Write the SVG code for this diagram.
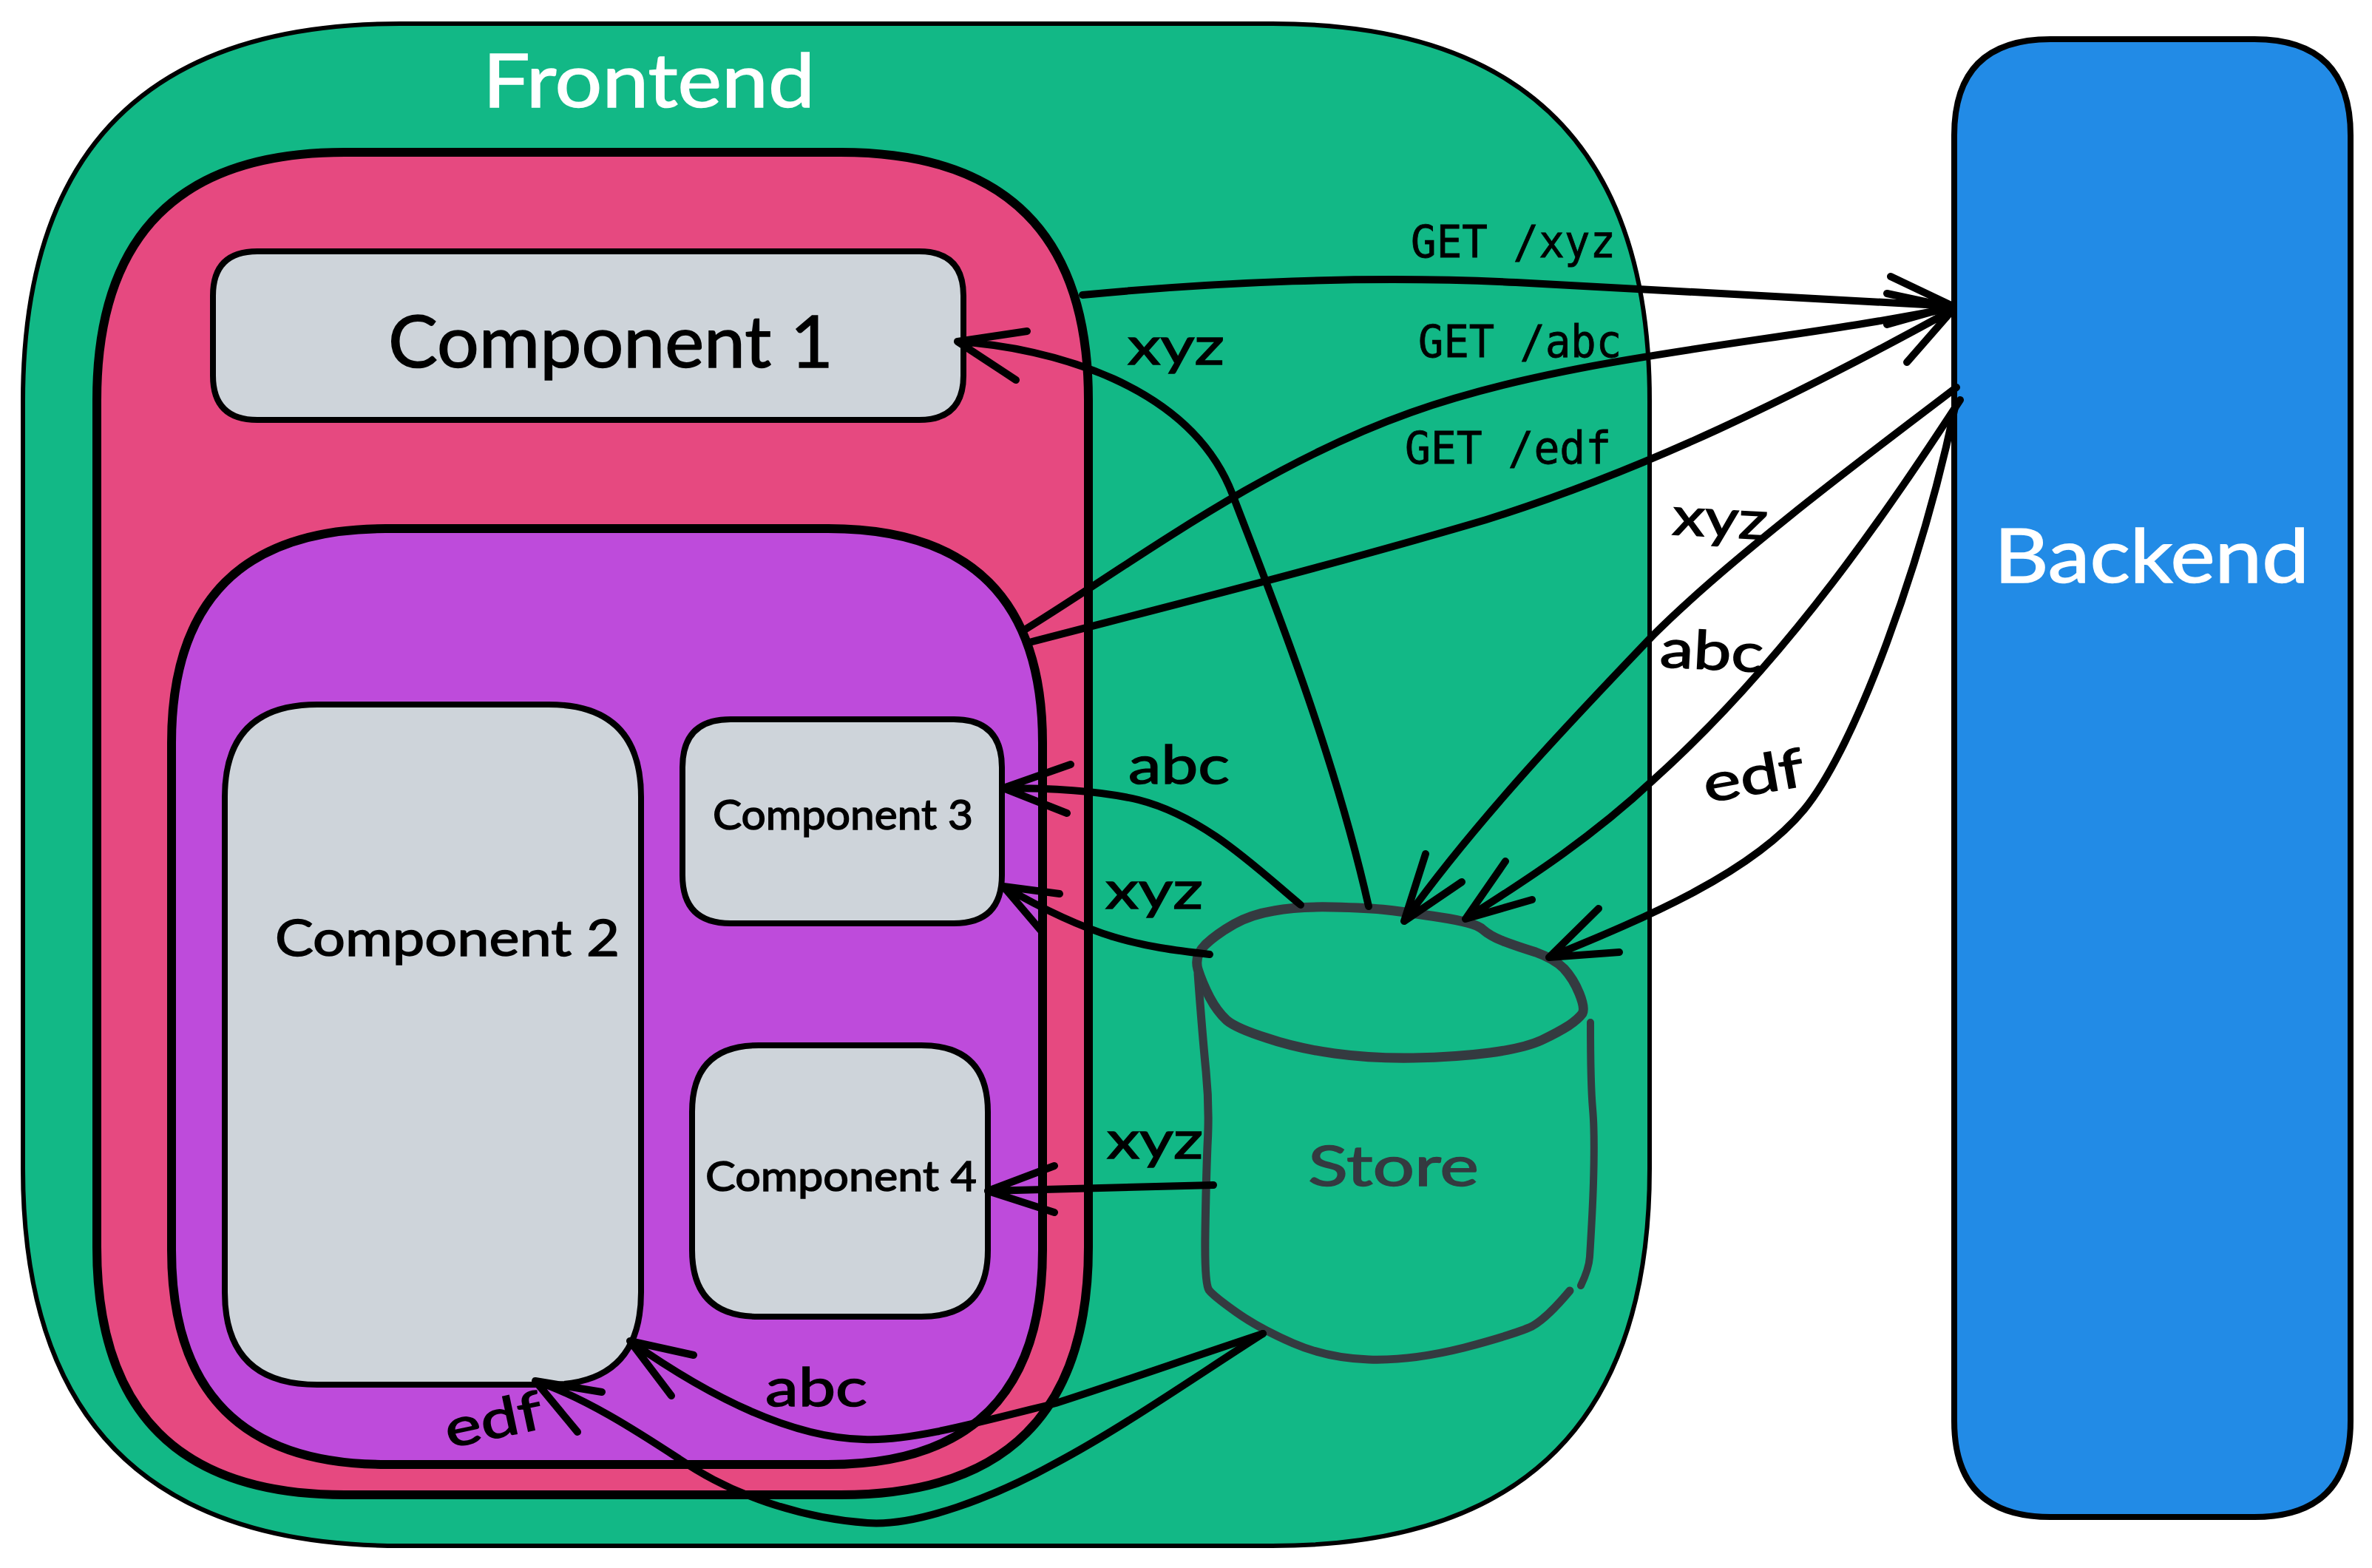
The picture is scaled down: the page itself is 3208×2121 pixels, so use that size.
<svg xmlns="http://www.w3.org/2000/svg" width="3208" height="2121" viewBox="0 0 3208 2121">
<style>
.box{stroke:#000;stroke-linejoin:round}
.t{font-family:"Lato","Liberation Sans",sans-serif;fill:#000;stroke:#000;stroke-width:1.5}
.w{fill:#fff;stroke:#fff}
.s{fill:#343a40;stroke:#343a40}
.m{font-family:"DejaVu Sans Mono","Liberation Mono",monospace;font-size:60px;fill:#000;stroke:#000;stroke-width:.8}
.c{fill:none;stroke:#000;stroke-width:10;stroke-linecap:round;stroke-linejoin:round}
.st{fill:none;stroke:#343a40;stroke-linecap:round;stroke-linejoin:round}
</style>
<rect width="3208" height="2121" fill="#fff"/>
<g id="frontend">
<path class="box" fill="#12b886" stroke-width="6" d="M541 32H1721Q2231 32 2231 542V1581Q2231 2091 1721 2091H541Q31 2091 31 1581V542Q31 32 541 32Z"/>
<text class="t w" x="653" y="145" font-size="100" textLength="449" lengthAdjust="spacingAndGlyphs">Frontend</text>
</g>
<g id="pink-container">
<path class="box" fill="#e64980" stroke-width="12" d="M466 206H1137Q1472 206 1472 541V1687Q1472 2022 1137 2022H466Q131 2022 131 1687V541Q131 206 466 206Z"/>
</g>
<g id="component-1">
<path class="box" fill="#ced4da" stroke-width="8" d="M348 340H1243Q1303 340 1303 400V508Q1303 568 1243 568H348Q288 568 288 508V400Q288 340 348 340Z"/>
<text class="t" x="525" y="497" font-size="96" textLength="602" lengthAdjust="spacingAndGlyphs">Component 1</text>
</g>
<g id="purple-container">
<path class="box" fill="#be4bdb" stroke-width="12" d="M522 715H1120Q1410 715 1410 1005V1691Q1410 1981 1120 1981H522Q232 1981 232 1691V1005Q232 715 522 715Z"/>
</g>
<g id="component-2">
<path class="box" fill="#ced4da" stroke-width="8" d="M429 953H742Q867 953 867 1078V1748Q867 1873 742 1873H429Q304 1873 304 1748V1078Q304 953 429 953Z"/>
<text class="t" x="372" y="1293" font-size="68" textLength="466" lengthAdjust="spacingAndGlyphs">Component 2</text>
</g>
<g id="component-3">
<path class="box" fill="#ced4da" stroke-width="8" d="M988 973H1290Q1355 973 1355 1038V1184Q1355 1249 1290 1249H988Q923 1249 923 1184V1038Q923 973 988 973Z"/>
<text class="t" x="964" y="1122" font-size="56" textLength="352" lengthAdjust="spacingAndGlyphs">Component 3</text>
</g>
<g id="component-4">
<path class="box" fill="#ced4da" stroke-width="8" d="M1026 1414H1246Q1336 1414 1336 1504V1691Q1336 1781 1246 1781H1026Q936 1781 936 1691V1504Q936 1414 1026 1414Z"/>
<text class="t" x="954" y="1611" font-size="56" textLength="367" lengthAdjust="spacingAndGlyphs">Component 4</text>
</g>
<g id="backend">
<path class="box" fill="#228be6" stroke-width="8" d="M2773 53H3049Q3179 53 3179 183V1922Q3179 2052 3049 2052H2773Q2643 2052 2643 1922V183Q2643 53 2773 53Z"/>
<text class="t w" x="2697" y="788" font-size="100" textLength="426" lengthAdjust="spacingAndGlyphs">Backend</text>
</g>
<g id="store">
<path class="st" stroke-width="13" d="M1630 1278Q1646 1263 1669 1250Q1692 1237 1723 1232Q1754 1226 1802 1227Q1851 1228 1877 1231Q1903 1234 1949 1241Q1995 1248 2005 1257Q2015 1266 2033 1273Q2051 1280 2077 1288Q2102 1297 2115 1310Q2128 1324 2136 1344Q2144 1364 2140 1371Q2135 1378 2122 1387Q2108 1396 2085 1407Q2061 1418 2015 1424Q1969 1430 1912 1431Q1856 1432 1805 1425Q1754 1418 1713 1404Q1672 1391 1659 1380Q1646 1368 1636 1349Q1626 1330 1620 1311Q1615 1293 1630 1278Z"/>
<path class="st" stroke-width="11" d="M1620 1317Q1626 1398 1631 1449Q1636 1499 1633 1550Q1631 1601 1630 1668Q1629 1736 1635 1745Q1641 1753 1672 1775Q1703 1797 1749 1817Q1795 1837 1851 1839Q1908 1841 1980 1823Q2051 1804 2072 1794Q2092 1783 2123 1746"/>
<path class="st" stroke-width="10" d="M2151 1383Q2151 1466 2154 1500Q2157 1533 2155 1600Q2154 1635 2150 1700Q2149 1716 2138 1739"/>
<text class="t s" x="1769" y="1604" font-size="76" textLength="231" lengthAdjust="spacingAndGlyphs">Store</text>
</g>
<g id="connectors">
<path class="c" d="M1464 399C1640 382 1850 372 2050 382L2641 414M2557 374L2641 414L2552 439"/>
<path class="c" d="M1384 853C1520 770 1700 632 1908 558C2130 479 2400 465 2641 416M2552 397L2641 416"/>
<path class="c" d="M1392 869C1600 815 1800 765 2010 703C2226 635 2420 540 2641 419L2579 490"/>
<path class="c" d="M2646 524C2560 590 2350 745 2236 859C2130 970 2000 1105 1899 1246L1928 1155M1899 1246L1977 1193"/>
<path class="c" d="M2651 541C2560 680 2420 890 2236 1055C2140 1145 2040 1205 1982 1243L2036 1165M1982 1243L2072 1217"/>
<path class="c" d="M2644 551C2600 760 2510 1010 2440 1095C2370 1180 2230 1240 2095 1295L2162 1229M2095 1295L2190 1288"/>
<path class="c" d="M1851 1226C1800 1000 1705 770 1667 669C1610 520 1420 470 1295 462L1389 448M1295 462L1374 514"/>
<path class="c" d="M1759 1224C1700 1175 1630 1105 1540 1082C1490 1070 1420 1066 1357 1066L1448 1034M1357 1066L1443 1100"/>
<path class="c" d="M1636 1291C1540 1280 1480 1270 1357 1199L1433 1209M1357 1199L1408 1259"/>
<path class="c" d="M1641 1603L1336 1611L1426 1577M1336 1611L1426 1640"/>
<path class="c" d="M1708 1804C1600 1840 1500 1875 1428 1898C1320 1925 1230 1950 1168 1947C1070 1945 960 1890 852 1814L938 1833M852 1814L908 1888"/>
<path class="c" d="M1708 1804C1620 1860 1520 1930 1428 1979C1345 2025 1240 2065 1173 2060C1100 2055 1000 2030 918 1973C860 1935 790 1890 724 1868L814 1883M724 1868L781 1937"/>
</g>
<g id="labels">
<text class="m" x="1908" y="348" textLength="277" lengthAdjust="spacingAndGlyphs">GET /xyz</text>
<text class="m" x="1918" y="483" textLength="275" lengthAdjust="spacingAndGlyphs">GET /abc</text>
<text class="m" x="1900" y="627" textLength="279" lengthAdjust="spacingAndGlyphs">GET /edf</text>
<text class="t" x="1525" y="493" font-size="72" textLength="131" lengthAdjust="spacingAndGlyphs">xyz</text>
<text class="t" x="1526" y="1060" font-size="72" textLength="137" lengthAdjust="spacingAndGlyphs">abc</text>
<text class="t" x="1495" y="1229" font-size="72" textLength="132" lengthAdjust="spacingAndGlyphs">xyz</text>
<text class="t" x="1497" y="1567" font-size="72" textLength="130" lengthAdjust="spacingAndGlyphs">xyz</text>
<text class="t" x="1035" y="1902" font-size="72" textLength="138" lengthAdjust="spacingAndGlyphs">abc</text>
<text class="t" transform="rotate(-12 607 1959)" x="607" y="1959" font-size="72" textLength="133" lengthAdjust="spacingAndGlyphs">edf</text>
<text class="t" transform="rotate(3 2261 723)" x="2261" y="723" font-size="72" textLength="129" lengthAdjust="spacingAndGlyphs">xyz</text>
<text class="t" transform="rotate(3 2244 902)" x="2244" y="902" font-size="72" textLength="140" lengthAdjust="spacingAndGlyphs">abc</text>
<text class="t" transform="rotate(-10 2308 1086)" x="2308" y="1086" font-size="72" textLength="137" lengthAdjust="spacingAndGlyphs">edf</text>
</g>
</svg>
